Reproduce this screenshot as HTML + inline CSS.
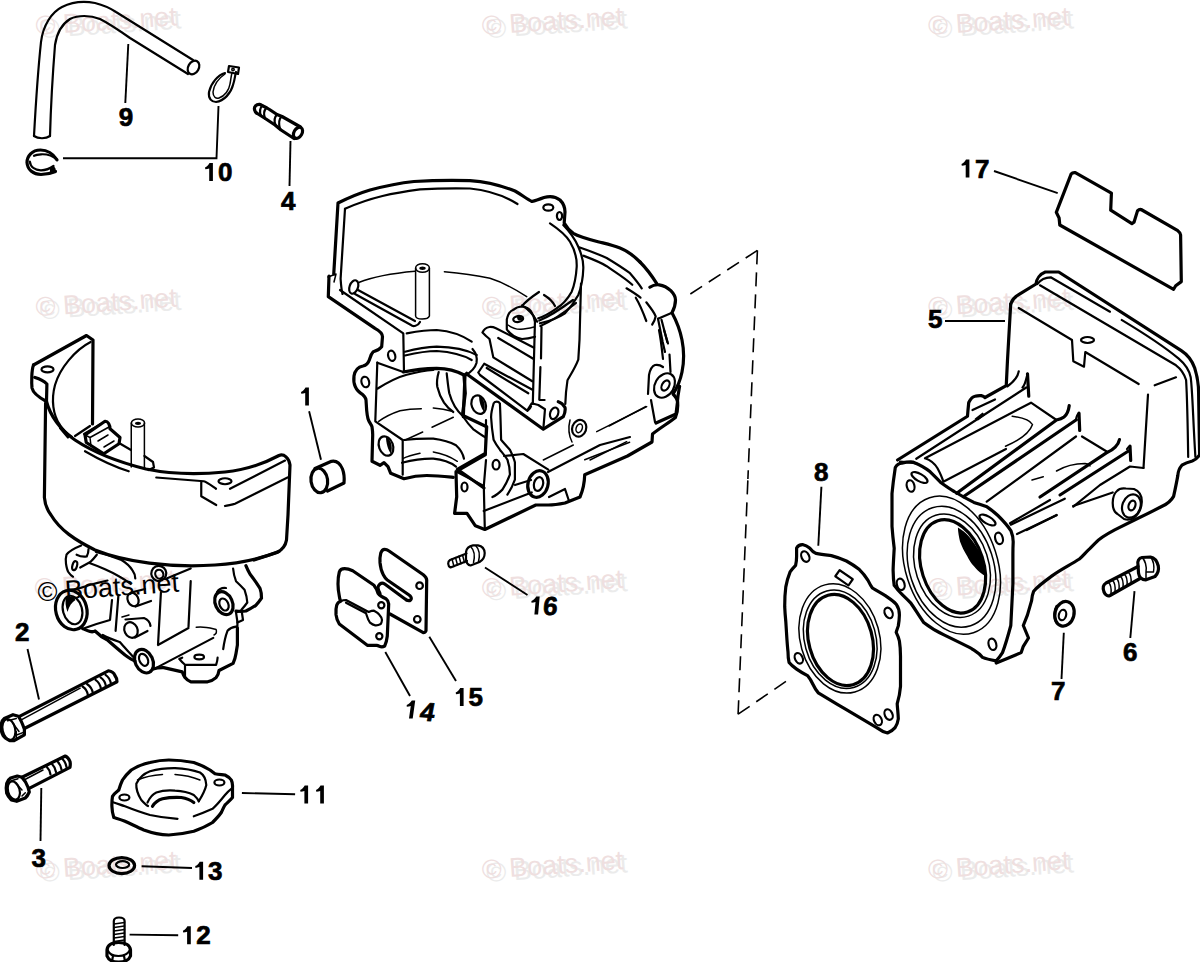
<!DOCTYPE html>
<html><head><meta charset="utf-8"><style>
html,body{margin:0;padding:0;background:#fff;width:1200px;height:962px;overflow:hidden}
svg{display:block}
.l{fill:none;stroke:#000;stroke-width:2.2;stroke-linecap:round;stroke-linejoin:round}
.t{fill:none;stroke:#000;stroke-width:1.5;stroke-linecap:round;stroke-linejoin:round}
.k{fill:none;stroke:#000;stroke-width:3.2;stroke-linecap:round;stroke-linejoin:round}
.ld{fill:none;stroke:#000;stroke-width:1.9}
.n{font-family:"Liberation Sans",sans-serif;font-weight:bold;font-size:26px;fill:#000;stroke:#000;stroke-width:0.7px}
.wm{font-family:"Liberation Sans",sans-serif;font-size:27px}
</style></head><body>
<svg width="1200" height="962" viewBox="0 0 1200 962">
<!-- WATERMARKS -->
<g id="wm">
<g transform="translate(36.2,35.0) rotate(-4)"><text class="wm" x="4.2" y="3.5" style="fill:#ebebeb">© Boats.net</text><text class="wm" style="fill:#efdfdf">© Boats.net</text></g>
<g transform="translate(482.5,35.0) rotate(-4)"><text class="wm" x="4.2" y="3.5" style="fill:#ebebeb">© Boats.net</text><text class="wm" style="fill:#efdfdf">© Boats.net</text></g>
<g transform="translate(928.8,35.0) rotate(-4)"><text class="wm" x="4.2" y="3.5" style="fill:#ebebeb">© Boats.net</text><text class="wm" style="fill:#efdfdf">© Boats.net</text></g>
<g transform="translate(36.2,316.3) rotate(-4)"><text class="wm" x="4.2" y="3.5" style="fill:#ebebeb">© Boats.net</text><text class="wm" style="fill:#efdfdf">© Boats.net</text></g>
<g transform="translate(482.5,316.3) rotate(-4)"><text class="wm" x="4.2" y="3.5" style="fill:#ebebeb">© Boats.net</text><text class="wm" style="fill:#efdfdf">© Boats.net</text></g>
<g transform="translate(928.8,316.3) rotate(-4)"><text class="wm" x="4.2" y="3.5" style="fill:#ebebeb">© Boats.net</text><text class="wm" style="fill:#efdfdf">© Boats.net</text></g>
<g transform="translate(35.2,597.6) rotate(-4)"><text class="wm" style="fill:#efdfdf">© Boats.net</text><text class="wm" x="2.8" y="4" style="fill:#000">© Boats.net</text></g>
<g transform="translate(482.5,597.6) rotate(-4)"><text class="wm" x="4.2" y="3.5" style="fill:#ebebeb">© Boats.net</text><text class="wm" style="fill:#efdfdf">© Boats.net</text></g>
<g transform="translate(928.8,597.6) rotate(-4)"><text class="wm" x="4.2" y="3.5" style="fill:#ebebeb">© Boats.net</text><text class="wm" style="fill:#efdfdf">© Boats.net</text></g>
<g transform="translate(36.2,878.9) rotate(-4)"><text class="wm" x="4.2" y="3.5" style="fill:#ebebeb">© Boats.net</text><text class="wm" style="fill:#efdfdf">© Boats.net</text></g>
<g transform="translate(482.5,878.9) rotate(-4)"><text class="wm" x="4.2" y="3.5" style="fill:#ebebeb">© Boats.net</text><text class="wm" style="fill:#efdfdf">© Boats.net</text></g>
<g transform="translate(928.8,878.9) rotate(-4)"><text class="wm" x="4.2" y="3.5" style="fill:#ebebeb">© Boats.net</text><text class="wm" style="fill:#efdfdf">© Boats.net</text></g>
</g>
<!-- PARTS -->
<g id="parts">
<!-- hose 9 -->
<path class="l" d="M34,136 C36,100 38,70 41,42 C43,25 52,12 62,7 C72,2 84,1 95,3 C103,5 110,8 116,12 L193,60"/>
<path class="l" d="M50,136 C51,100 53,70 55,45 C57,32 62,24 70,19 C78,15 90,15 100,19 C110,24 120,31 130,38 L188,74"/>
<path class="l" d="M34,136 C38,139 46,139 50,136"/>
<ellipse class="l" cx="193.5" cy="67.5" rx="5.3" ry="7.2" transform="rotate(30 193.5 67.5)"/>
<!-- clip 10 lower (C ring) -->
<path class="k" d="M57,159.8 C52,152 46,150 40.5,150 C32,150 27,156 27,162.5 C27.5,170 33.5,174.5 41,174.5 C47,174.5 52,173 55.5,171.5"/>
<path class="l" d="M57,159.8 C53,156 47,154 41,154.3 C37.5,154.5 35.5,155 34,155.8 M29.8,161.5 C30.5,167 35,170.3 41,170.3 C46,170.3 50,168.5 53.5,166"/>
<path d="M50,168.5 L53.5,165.5 L55.5,168.5 L56,172.5 L50,174 Z" fill="#000"/>
<!-- clip 10 upper -->
<path class="l" d="M225,73 C218,75 211,83 209,92 C208,99 212,102 216,102 C224,101 231,93 233,85 C235,79 235,75 236,72"/>
<path class="t" d="M225,74 C219,78 214,85 213,92 C213,97 216,99 219,98 C225,96 229,90 230,84 C231,79 231,76 232,73"/>
<path class="l" d="M229,66 L239,67.5 L238,74 L228,72 Z"/>
<circle class="t" cx="233" cy="69.5" r="1.2"/>
<!-- pin 4 -->
<path class="k" d="M260,104.5 L267,108 L269.5,109.5 L277,114.5 L282,116.5 L300.5,127 M256.5,113 L266,119 L275,125 L281,130 L294,138.5"/>
<path class="k" d="M260,104.5 C256,104 254,107 254.5,109.5 C255,111.5 255.5,112.5 256.5,113"/>
<ellipse class="k" cx="298" cy="132.8" rx="4" ry="6" transform="rotate(30 298 132.8)"/>
<path class="l" d="M262.5,105.5 C260,108 259.5,112 261,115.5 M266.5,107.8 C264,110.5 263.5,114.5 265,118.5 M277,114.5 C274.5,117 274,121 275.5,125 M281.5,116.5 C279,119 278.5,123.5 280,129"/>
</g>
<!-- LEFT HOUSING: shroud -->
<g id="lh">
<path class="k" d="M33.5,365 L86.5,335.5 L93,340 L92.5,424"/>
<path class="k" d="M33.5,365 C31.5,370 31.5,383 32,388 C33,393 40,398 46.5,401.5 L46.9,384 C44,381 40,379 35,377.5"/>
<ellipse class="l" cx="47.5" cy="369.4" rx="6" ry="3"/>
<path class="l" d="M90.6,342 C75,350 60,368 55,385 C51,400 53,415 60,425 C64,431 68,434 72,437"/>
<path class="k" d="M46.5,401.5 C50,415 60,430 75,440 C90,450 110,460 146,469 C170,474 195,475 225,472 C245,470 265,463 279,455.5 C284,453.5 289,458 290,465 L288,515 L286.5,540 C285.5,546 282,550 277,552.5 L254,560"/>
<path class="l" d="M230,488.75 L285,460.6 M225,506 C228,505 232,505 235,503.75 L287.5,477.5"/>
<path class="l" d="M156.25,477.5 L203.75,481.25 C207,482 212,486 216,488.75 M201.25,482.5 L201.25,496.25 L216.25,505"/>
<ellipse class="l" cx="225" cy="481.25" rx="6.5" ry="3"/>
<path class="l" d="M85,451.25 C100,460 115,467 128.75,471.25 M68,437.5 L60,428"/>
<path class="k" d="M45.6,403 L45,450 L44.4,497.5 C45,506 48,511 51,515 C60,530 75,540 95,550 C125,562 170,568 215,565 C245,563 265,557 279,551.5"/>
<path class="l" d="M75,436 L90,426 M84,434 L101,424"/>
<!-- choke block -->
<path class="k" d="M85,435 L105,421.25 C108,421 110,425 110,428.75 L120,437.5 L119,443.75 L103.75,453.75 L86.25,442.5 Z"/>
<path class="t" d="M85,435 L90,437.5 L109,427 M90,437.5 L91,446 M98,441 L108,435 M104,447 L114,441"/>
<path class="l" d="M119,443 L131,450"/>
<!-- tube -->
<path class="t" d="M131.25,423 L131.25,467 M144.4,423 L144.4,468"/>
<ellipse class="t" cx="138" cy="423" rx="6.6" ry="4"/>
<ellipse cx="138" cy="423.3" rx="3" ry="1.6" fill="#000"/>
<path class="l" d="M144.4,456 L153,462 L154,467.5 L148.5,470"/>
<!-- carb body -->
<path class="l" d="M81.2,545.5 C75,548 69,551 66.5,554.7 C65.5,558 65.5,561 66,563.8 C66.5,567 67,570 68.3,572 C70,574.5 71.5,576 73,576.7"/>
<ellipse class="l" cx="74.7" cy="565.7" rx="2.3" ry="4.6" transform="rotate(15 74.7 565.7)"/>
<path class="l" d="M76.6,554.7 C80,556.5 83.5,557 86.7,556.5 C88,554 88.5,551.5 88.5,549.2"/>
<path class="l" d="M80.2,567.5 L90.3,562 C93,559.5 95,557 96.8,554.7"/>
<path class="l" d="M89.4,563 C95,565 100,567 105,569.3 C110,571.5 115,574 119.7,576.7 C124,579 127.5,581.5 130.7,584"/>
<path class="l" d="M95.9,552 C105,554 113,556.5 121.5,560 C126.5,563 130,566.5 132.5,570.3 C134.5,573 135.2,575.5 135.3,578.5"/>
<ellipse class="k" cx="71.3" cy="610" rx="15.5" ry="20" transform="rotate(-15 71.3 610)"/>
<ellipse class="l" cx="72.5" cy="610" rx="9.5" ry="14.5" transform="rotate(-15 72.5 610)"/>
<path d="M66,597 C70,595.5 74,597 75.5,600 C72,602 69,606 67.5,612 C65.5,607 65,601 66,597 Z" fill="#000"/>
<path class="l" d="M73,590.5 C85,586 96,583 107.5,580.5 M85,628 C93,625 101,622.5 110,620 L112,600"/>
<path class="k" d="M82.5,628.5 C88,631 92,633 95,631 C99,635 103,638 107.5,640 C113,645 119,650 125,655 C129,658 132,660 135,661"/>
<path class="l" d="M118.4,595.4 L115.6,630.8 M102.8,635 C108,638 114,640 119.8,642 C124,647 129,652 134,657.7"/>
<!-- small cylinders -->
<ellipse class="l" cx="133" cy="599.5" rx="5.3" ry="7" transform="rotate(-25 133 599.5)"/>
<path class="l" d="M131,592.6 L145,589 M135.5,606.5 L151,601"/>
<ellipse class="l" cx="131" cy="630" rx="6.5" ry="8" transform="rotate(-25 131 630)"/>
<path class="l" d="M125.5,619.5 L144,618 C148,619.5 150,622 150.5,626 M135,637.5 L147.5,631"/>
<path class="t" d="M122,617 L129,615"/>
<!-- boss lower left -->
<ellipse class="k" cx="144" cy="661.2" rx="8.8" ry="12.3" transform="rotate(-25 144 661.2)"/>
<ellipse class="l" cx="143.6" cy="659.8" rx="4.2" ry="6.3" transform="rotate(-25 143.6 659.8)"/>
<!-- bottom contour -->
<path class="k" d="M153.1,669 C156,668 160,667.5 163.7,667.6 L182.2,671.9 C183,674 184,676 185,677.6 C186.5,679.5 188.5,681 190.7,681.8 L207.6,681.8 C211,681 214,679.5 216.1,677.6 C217.8,675.5 218.7,673 219,670.5 L233.1,663.4 C234.5,660 235.5,657 236,653.5 L237.4,645 L237.4,628"/>
<path class="l" d="M156.7,667.6 L213.3,637.9 M182.2,657.7 L179.3,659 M179.3,659 C181,661 183,663 185,664.8 L216.1,664.8 C217,662 217.5,660 217.6,657.7 M185,664.8 L185,677"/>
<ellipse class="l" cx="199.2" cy="657" rx="4.8" ry="2.3"/>
<!-- top boss and rect -->
<ellipse class="l" cx="158.8" cy="573.4" rx="7.5" ry="7.5" transform="rotate(-25 158.8 573.4)"/>
<ellipse class="l" cx="159.3" cy="574.2" rx="4" ry="4.5" transform="rotate(-25 159.3 574.2)"/>
<path class="l" d="M166.6,578.4 L190.7,568.5 M190.7,581.2 L188.5,626.6 M160.9,592.6 L158,645 M158,645 L188.5,628"/>
<path class="t" d="M196.3,627.3 C203,626 210,628 216.1,629.4 C217,632 216,634 214,635"/>
<!-- right side -->
<path class="k" d="M236,611 C239,611.5 243,611.5 245.9,611 C249,609.5 252.5,607.5 255.8,605.3 C258,603 260,600.5 261.5,598.2 C261.5,594.5 261,591 260,588.3 C257,583.5 253.5,578.5 250.1,574.2 C248.5,571.5 247,568.5 245.9,565.7"/>
<path class="l" d="M233.1,568.5 C233.5,573 234.5,577.5 236,581.2 C239,584 242,587 244.5,589.7 C246,594 247,598 247.3,602.5 C245.5,605 243.5,607.5 241.6,609.6"/>
<ellipse class="k" cx="223.9" cy="603.2" rx="8.5" ry="12" transform="rotate(-25 223.9 603.2)"/>
<ellipse class="l" cx="224" cy="604.5" rx="4.3" ry="6.3" transform="rotate(-25 224 604.5)"/>
<path class="l" d="M217,592 C219,589 222,587.5 226,588"/>
<path class="l" d="M236,612.4 L241.6,610.5 L243,620 L237.5,622.5 Z"/>
<path class="l" d="M223.2,649.2 C224,643 225.5,636 227.5,630.8 C230,628 233,627 236,626.6 M237.4,628 L237.4,622"/>
</g>
<!-- CENTRAL CRANKCASE -->
<g id="cc">
<!-- top rim -->
<path class="k" d="M333.75,274 L338,203 C350,197 360,193 370,190 C385,186 400,183 414,181.5 C430,180.5 445,180 470,180.6 C490,182 505,187 515,191 C522,195 527,199 532,201.5 C536,200.5 540,199 544,197.5 C549,196 555,196 560,200 C564,204 565,208 565,212 L564.2,223 C567,228 570,231 573.3,233.3 C578,236 584,238 598,241.7 C607,244 612,245 620,248 C628,251 634,256 640,262"/>
<path class="l" d="M345,208.75 C358,203 370,199 382.5,196 C395,193 408,191 420,189.4 C440,188.2 460,188.3 470,188.5 C485,190 500,193 517.5,204"/>
<path class="l" d="M345,208.75 L340.6,278.75 C341,285 341.5,290 342.5,294"/>
<ellipse class="l" cx="548.3" cy="207.5" rx="5" ry="3.2"/>
<ellipse class="l" cx="559.5" cy="216" rx="2.6" ry="4"/>
<path class="t" d="M328,277 L336,274 L334,282"/>
<!-- flywheel cavity arcs -->
<path class="l" d="M550,223.3 C560,230 566,235 570,241.7 C575,250 577,258 576.7,266.7 C576,278 574,286 571.7,291.7 C567,300 562,305 556.7,308.3 C550,313 545,316 538.3,318.3"/>
<path class="l" d="M563.3,225 C570,232 575,239 578.3,246.7 C582,255 583.5,262 583.3,268.3 C583,280 581,288 578.3,295 C574,303 570,308 565,313.3 C558,318 550,321 540,323.3"/>
<!-- floor -->
<path class="t" d="M358.75,282.5 C375,276 395,273 415,271.25 M444.4,271.7 C460,273 475,275 490,278.3 C505,283 515,289 526.7,296.7"/>
<ellipse class="l" cx="353.75" cy="287" rx="4.2" ry="7" transform="rotate(20 353.75 287)"/>
<path class="l" d="M358,290 L415,321 M355,294 L411,325 C413,327 418,326 420,322"/>
<!-- tube in cavity -->
<path class="t" d="M415.6,268 L415.6,316 C416,320 428,320 429.4,316 L429.4,268"/>
<ellipse class="t" cx="422.5" cy="268" rx="6.9" ry="4.3"/>
<ellipse cx="422.5" cy="268.3" rx="3.2" ry="1.7" fill="#000"/>
<!-- left contour -->
<path class="k" d="M329,276 L328.3,296.7 L375,328.3 C380,331 382.5,333 382.5,336.7 L381.7,346.7 C379,350 376,351 373.3,351.7 C371,354 370,358 369.3,360 C368,364 366,365.3 363,366 C358,367 355,370 354,376 C353.5,380 354,384 355.3,386.7 C357,391 360,393 362.7,394.7 C365,397 366,399 366,400 L366.7,410.7 C367,414 367.5,417 368,418.7 C369,422 371,424 372,426.7 C372.5,430 372.7,432 372.7,434.7 L372,461.3 L380,465.3 L384,462.7 L388,466.7 L390.7,473.3 L404,478.7 C412,476.5 420,475.5 426.7,475.5 C438,475.5 446,476.5 453.3,477.3"/>
<path class="l" d="M340,290 L403.3,333.3 L404,372"/>
<ellipse class="l" cx="391.7" cy="355.8" rx="3.5" ry="5.2" transform="rotate(-15 391.7 355.8)"/>
<ellipse class="l" cx="365.3" cy="382" rx="3.8" ry="5.3" transform="rotate(-15 365.3 382)"/>
<ellipse class="l" cx="386" cy="446" rx="7" ry="10" transform="rotate(-20 386 446)"/>
<path d="M386,437 C391,439 393,446 391,454 C388,450 386,443 386,437 Z" fill="#000"/>
<!-- upper half bearing -->
<path class="l" d="M406.7,333.3 C420,331 430,330 436.7,330 C450,331 462,335 471.7,341.7"/>
<path class="l" d="M472.5,349 C476,353 477.5,358 476.5,363 C475,368 471,372 466,375"/>
<path class="l" d="M405,351.7 C420,348 430,347 436.7,346.7 C455,347 467,350 476.7,355 M405,355.5 C420,352 430,351 436.7,351 C452,352 463,355 471.7,360"/>
<path class="l" d="M377.3,362.7 L403.3,372"/>
<path class="k" d="M403.3,372 C415,369.5 425,368.5 436.7,368.3 C448,368.5 456,370.5 464,375"/>
<path class="l" d="M377.3,362.7 L375.3,421.3 L402.7,440 L402.7,474.7"/>
<path class="l" d="M377.3,388.7 C388,382 398,377 406.7,374.7 C417,372 425,370.5 433.3,370"/>
<path class="t" d="M378.7,421.3 C386,416 393,413 400,410.7 C408,409 415,408.7 421.3,408.7 M433.3,408 C440,408.5 446,409.5 452,411.3"/>
<path class="t" d="M405.3,440 L422.7,432 M432,427.3 L453.3,417.3"/>
<path class="l" d="M438.7,372 C437,378 436.5,382 437.3,386.7 C439,394 441,398 444,402.7 C447,407 450,410 453.3,412"/>
<path class="l" d="M446.7,373.3 C447.5,380 448,386 449.3,393.3 C452,403 456,410 462.7,416 C466,421 470,426 473.3,429.3 C477,432 481,435 485.3,437.3"/>
<!-- lower half bearing -->
<path class="l" d="M404,440 C415,438.8 425,438.5 433.3,438.7 C443,440 450,442 456,445.3 C460,449 463,454 464,458.7"/>
<path class="t" d="M402.7,458.7 C408,456 414,454.5 420,453.3 M433.3,452 C442,453.5 450,456.5 457.3,461.3"/>
<path class="l" d="M402,462.7 C415,459.5 425,458.5 433.3,458.7 C443,459.5 450,462 456,466.7"/>
<path class="k" d="M464,376 L465.3,393.3 L462.7,413.3 M464,416 L486.7,426.7 L485.3,453.3 L457.3,469.3 L484,488"/>
<ellipse class="l" cx="478.7" cy="404.7" rx="7" ry="9.5" transform="rotate(-20 478.7 404.7)"/>
<path d="M479,396 C484,398 486,405 484,412 C481,408 479,402 479,396 Z" fill="#000"/>
<!-- center connecting area -->
<path class="l" d="M482.5,332.5 C484,329 486,327.5 489.5,327 C492,326.8 494,327.3 496,328.2 L534,347.7 M486,336 L489.5,339 L493.3,357.4 L532.3,381.3 M498.2,338 L532.8,358.5 M482.5,332.5 L486,336"/>
<path class="l" d="M478.3,372.5 L484.2,363.75 L532,389.5 M486.7,368 L528.3,393.3 M478.3,372.5 L480,375 L527.5,410.8 C529.5,409.5 530.5,408 531,406.5"/>
<path class="l" d="M506.8,319.5 C508,314 510,311 513.3,309.8 C516,307.5 519,306.5 522,306.5 C526,307 529,308.5 530.7,310.8 C533,314 534.5,318 535,321.7 M506.8,319.5 L506.8,329.3 C510,334 515,338 522,339 C527,339 531,338 535,336.8"/>
<ellipse class="l" cx="518.2" cy="319" rx="5" ry="3" transform="rotate(-10 518.2 319)"/>
<path d="M517,317 C520,316 523,317 522.5,319.5 C520,321 517,321 517,317 Z" fill="#000"/>
<path class="t" d="M508,325 C512,328 516,329.5 521,329.3 C526,329 530,328 534,327"/>
<path class="l" d="M522,306 C527,300 533,296 539,292 M544,295 C549,298 553,302 555,306 M522,305.4 C528,309 533,314 537.2,321.7 M539.3,320.6 C550,316 562,308 573,300 M540.4,326 C552,321 565,312 576,303"/>
<path class="l" d="M535,319.5 L532.8,404 M541.5,327 L541,358.5 M540.4,367.2 L539.3,399.7"/>
<path class="l" d="M581,283.5 C580.5,300 580,320 579.5,340 L578.3,359.6 C575,368 571,374 567.5,380.2 C566,390 565.5,397 565.3,404"/>
<path class="k" d="M466.7,373.3 L465,375 L463.3,416.7 M466.7,374 L543.3,429.2 L563.3,416.7 C565,413 565.5,410 565,407.5 C563,404 561,402.5 558.3,401.7"/>
<path class="l" d="M527.5,410 L531.7,403.3 L538.3,405 L545,409.2 L543.3,429.2 M540,400 L544.6,400"/>
<ellipse class="l" cx="554.2" cy="413.3" rx="4" ry="6" transform="rotate(20 554.2 413.3)"/>
<ellipse class="l" cx="579.2" cy="428.3" rx="7" ry="8.5" transform="rotate(20 579.2 428.3)"/>
<ellipse class="t" cx="579.2" cy="428.3" rx="3" ry="4.5" transform="rotate(20 579.2 428.3)"/>
<path class="t" d="M570,420 C568,428 569,436 572,442 M596.7,431.7 L646.7,406.7 M543.3,460 L573.3,445 M590,460 L626.7,441.7"/>
<path class="l" d="M493.6,403.5 C492,409 491,413 491.1,417.3 C491.5,425 492.5,433 493.6,439.7 C495.5,443.5 497.5,446.5 499.9,449.7 C502.5,453 505.5,456.5 507.4,459.7 C509,464.5 510,469.5 509.9,474.7 C508,480 505.5,485 502.4,489.6 C499,493 496,495.5 492.4,497.1 M499.9,403.5 C500.5,415 500.8,428 501.1,439.7 C503.8,443 507,446.5 509.9,449.7 C512,454 513.8,458 514.9,462.2 L514.9,479.6 C513,485 510.5,490 507.4,494.6 M493.6,403.5 C494.5,401 498.5,401 499.9,403.5"/>
<!-- bottom -->
<path class="k" d="M456,471.7 L456.7,496.7 L454.6,513.3 L467,513.3 L475.4,525.8 L484.8,529.5 L535.8,505 C541,505 545,505 548.3,505 C555,505 560,504 565,503 L580,497 C583,490 584.5,483 584.7,474.7 L627.5,456 L652,442 L652.5,434 C660,428 670,422 675.4,417.5 C678,412 678,406 677.5,400.8 C678,394 679,390 679.6,386.3"/>
<path class="l" d="M456.7,471.7 L485.8,455 L486,420 M456.7,471.7 L483.8,486 L484.8,529"/>
<path class="l" d="M483.8,486 L486,460 M483.75,511 L531.7,492.5"/>
<ellipse class="l" cx="464.5" cy="487" rx="3" ry="4.5"/>
<ellipse class="l" cx="496.1" cy="464.7" rx="3.5" ry="4.8"/>
<path class="l" d="M504,456 L523.3,454 L548.3,469.6 M515,485 L531,480"/>
<ellipse class="k" cx="538" cy="484" rx="10" ry="13.5" transform="rotate(15 538 484)"/>
<ellipse class="l" cx="538.5" cy="484" rx="4.5" ry="7" transform="rotate(15 538.5 484)"/>
<path class="l" d="M548,472 L600,445 L630,437 M549,497 L565,489 L569,501"/>
<path class="t" d="M584.7,459.7 L629.6,442.2"/>
<!-- right side of crankcase -->
<path class="k" d="M640,262 C646,268 652,276 656.8,283.7 M649.8,287.2 C653,285 656,284.5 659.2,284.8 C664,285.5 668,288 670.8,290.7 C674,294 675.5,297 675.5,300 C675.5,304 675,307 672,312.8 C677,322 680,330 682,340 C684,350 684.5,360 682,372 C680,382 677,388 673,394 C676,397 677.5,400 677.5,402 L676,414 L656,423"/>
<path class="l" d="M672,312.8 L658,318.7 M658,318.7 L662.7,342 L665,352 M661.5,319.8 L667.3,342"/>
<path class="l" d="M579.8,247.5 C590,251 598,254 606.7,258 C615,263 623,268 630,273.2 C635,279 639,284 641.7,288.3"/>
<path class="l" d="M583.3,255.7 C592,259 600,262 606.7,266.2 C615,272 625,278 632.3,284.8"/>
<path class="l" d="M626.5,288.3 C631,291 636,294 640.5,297.7 M635.8,297.7 C639,303 643,312 646.3,321 M646.3,302.3 C650,307 654,312 655.7,316.3 C655,320 654,322 652.2,324.5"/>
<path class="l" d="M659,330 C661,340 662,350 663,359 M664,330 L668,343.5 M669.5,354.5 L670.5,372"/>
<ellipse class="l" cx="664.5" cy="385.5" rx="9.5" ry="13" transform="rotate(30 664.5 385.5)"/>
<ellipse class="l" cx="665.5" cy="385.5" rx="3.5" ry="5.5" transform="rotate(30 665.5 385.5)"/>
<path class="l" d="M648,394 L649,375 C650,370 652,366 655,365 C658,364.5 661,365.5 663,367"/>
<path class="l" d="M651,400 L655,422"/>
<path class="t" d="M646,406.5 L609,426"/>
</g>
<!-- reed 15 / 14 -->
<path class="k" d="M380.7,553.3 C381.5,550.5 383,549.3 384.7,549.3 C386,549.3 387.5,549.8 388.7,550.7 L423.3,574.7 C425.5,576.5 426.7,578 426.7,580 L426,630.7 C425.5,632 424.5,632.7 423.3,632.7 L390,614 M380.7,553.3 C380,556 379.8,559 380,562.7 C380.5,568 381.5,571.5 383.3,574.7 C384.5,577 385.7,578.7 387.3,580 L408.7,594.7 C410.5,596 411.5,597.5 411.3,598.7 C410.8,600.2 409.8,600.8 408.7,600.7 C407,600.7 405.7,599.8 404.7,598.7 L384.7,584 C383,582.8 381.5,582.7 380,584 C378.5,585.3 377.8,586.5 378,588 C378.2,590 379,591.8 380,593.3"/>
<circle class="l" cx="419.6" cy="585.7" r="3.3"/>
<circle class="l" cx="417.3" cy="619.3" r="3.3"/>
<path class="k" d="M339.3,572 C340,569.8 342,568.7 344.7,568.7 C347.5,568.7 350,569.5 352.7,570.7 L374,585.3 C376,587.5 377,590 378,593.3 C380,596 383,597.5 386,598.7 C387.7,600 388.5,602 388.7,604 L387.3,636 C386.8,640 386,643.5 384.7,646 C383.3,646.8 382,646.9 380.7,646.7 C379.3,646.2 378,645.5 376.7,645.3 L367.3,645.3 L339.3,624 C337.5,621 336.3,618 336,614.7 C335.8,611 336,607.5 336.7,605.3 C337.5,603 339,601.8 340.7,601.3 C339.8,599.5 339.5,598 339.3,596 C338.5,592 338,588 338,584 C338,579 338.5,575 339.3,572 Z"/>
<path class="l" d="M340.7,601.3 C342.5,600.3 344.3,600 346,600 L368.7,612 C371,611 372.5,610.7 374,610.7 C376,611.7 378,613 379.3,614.7 C381,616.5 382,618.2 382,620 C381.8,622 381.3,623.3 380.7,624 C379,625 377.3,625.5 375.3,625.3 C373.3,625 371.5,624 370,622.7 C368,620 367,616.5 366,613.3 L346,602.7"/>
<circle class="l" cx="381.3" cy="605.3" r="3.1"/>
<circle class="l" cx="379.3" cy="636.3" r="3.1"/>
<!-- screw 16 -->
<path class="l" d="M466,552 C466.5,548.5 469,546 473,545.3 L478,545.3 C482,546 484.5,549 484.7,553 C484.7,557 483,560 479.5,562 L470.5,565.5 C468,565 466.5,563 466,560 Z"/>
<path class="t" d="M471,547 C474,550 475,556 473.5,562.5 M476,546 C479,549 480,555 478.5,561.5"/>
<path class="l" d="M466.5,553.5 L450,560 C447.5,561.5 447.5,566 450.5,567.5 L467,561"/>
<path class="t" d="M452,559 L454,566.5 M455.5,557.6 L457.5,565 M459,556.3 L461,563.8 M462.5,555 L464.5,562.5"/>
<!-- bolt 2 -->
<path class="k" d="M1.1,725 C1.5,721.5 2.8,719.8 4.3,718.5 L13,714.7 L18.4,716.3 C21,720 23,725 24.4,729.3 L24.4,734.8 L14.1,740.7 L9.8,740.7 C6.5,739 4.5,738 3.3,735.8 C1.5,733 0.8,729 1.1,725 Z"/>
<ellipse class="l" cx="8.9" cy="729.5" rx="6.3" ry="10.6" transform="rotate(-12 8.9 729.5)"/>
<path class="t" d="M7.6,720.7 L16.3,718.5 M13,723.5 L19,731.5 M17.3,734.8 L22.8,732.6 M16.3,731.5 L16.3,740.2"/>
<path class="k" d="M19.5,716.3 L108.3,670.8 C111.5,671.5 114,673 114.8,675.2 C116.5,677.5 117.2,679.5 117,681.7 L24.9,728.3"/>
<path class="t" d="M21.7,719.6 L80.2,688.2"/>
<path class="l" d="M82.5,686.5 C85,688 87.5,692 88,695.5 M87,684 C90,686 92.5,690 93,693.5 M95.5,679.8 C98,681.5 100.5,685.5 101,689 M100.5,677.3 C103,679 105.5,683 106,686.5 M105.5,674.8 C108,676.5 110.5,680.5 111,684"/>
<!-- bolt 3 -->
<path class="k" d="M6.7,783.3 C8,780.5 9,779 10.7,778 L17.3,776 L22,777.3 C25,780.5 27,784 28,787.3 L29.3,792 C28,795 27,796.5 25.3,798 L16.7,801.3 L11.3,800 C9,797.5 7.5,795.5 6.7,793.3 C6,790 6,786.5 6.7,783.3 Z"/>
<ellipse class="l" cx="13.8" cy="790.5" rx="5.8" ry="9.3" transform="rotate(-15 13.8 790.5)"/>
<path class="t" d="M11.3,780.7 L18,778.7 M15.3,782.7 L22,790 M22,796 L25.3,792.7"/>
<path class="k" d="M22,777.3 L65.3,756 C67.5,757 69,759 70,761.5 C70.5,763.5 70.3,765.5 70,767.3 L28.7,788.7"/>
<path class="t" d="M24,780 L43,770"/>
<path class="l" d="M46.5,766.5 C48.5,768.5 50,771.5 50.5,774.5 M52,764 C54,766 55.5,769 56,772 M57.5,761.5 C59.5,763.5 61,766.5 61.5,769.5 M62.5,759 C64.5,761 66,764 66.5,767"/>
<!-- flange 11 -->
<path class="k" d="M112.5,796.3 C114.5,793 117,791.5 118.8,790 C120,786 121,783 122.5,780 C125,776 128,773 131.3,770 C137,766.5 143,764 150,762.5 C156,761 162,760 168.8,760 C178,760 186,761 193.8,762.5 C200,764.5 205,767 210,770 L215,773.8 C218.5,774.5 222,774.6 225,775 C228,776.5 230,778 231.3,780 C232.5,782.5 232.7,785 232.5,787.5 L232.5,797.5 C230,800.5 227.5,802.5 225,805 C223.5,807.5 222.5,810 221.3,812.5 C218.5,816.5 215.5,819.5 212.5,822.5 C206,826.5 200,829 193.8,831.3 C185,833.5 177,834.7 168.8,835 C160,834.8 152,833 143.8,830 C137,827 131,824 125,821.3 C121,819.5 117,818.5 113.8,817.5 C112.5,813.5 112,810 111.9,806.3 C111.8,802.5 112,799.5 112.5,796.3 Z"/>
<path class="l" d="M113.8,802.5 C117,803.5 121,805 125,806.3 C133,809.5 141,812.5 150,815 C159,817 168,818.2 177.5,818.8 M193.8,816.3 C200.5,814 206.5,811.5 212.5,808.8 C217,805 221,800 225,795 C227,792.5 229,790.5 231.3,788.8"/>
<ellipse class="l" cx="124.4" cy="797.5" rx="5" ry="3"/>
<ellipse class="l" cx="219.4" cy="782.5" rx="5" ry="3"/>
<path class="l" d="M136.3,783.8 C139,778 143,774 150,771.3 C158,769 166,768 175,768.1 C185,768.5 193,770 200,772.5 C204,775 206,780 206.3,785 C205,791 202,796 198.8,801.3 M136.3,783.8 C136,789 137.5,794 141.3,800 C144,803 146,805 148,806"/>
<path class="t" d="M137.5,780 C145,776.5 153,775 162.5,774.4 M175,774.4 C185,775 193,777 200,780"/>
<path class="l" d="M147.5,802.5 C150,797 153,794 156.3,792.5 C162,790.5 168,790 175,790.6 C183,791 189,792.5 193.8,795 C196,797 197.8,799 198.8,801.3"/>
<path class="k" d="M152.5,806.3 C155,802 158.5,800 162.5,798.8 C168,797.6 175,797.2 181.3,797.5 C186,798.3 190.5,800 193.8,802.5"/>
<!-- washer 13 -->
<ellipse class="k" cx="121.8" cy="865.6" rx="12.8" ry="8"/>
<ellipse class="l" cx="122.6" cy="864.6" rx="6.6" ry="3.4"/>
<!-- screw 12 -->
<path class="l" d="M113.8,945 L113.8,921 C114,918.5 116.5,917.5 119,917.5 C122,917.5 124.5,918.5 124.6,921 L124.6,945"/>
<path class="t" d="M114,924 L124.5,922.5 M114,927.5 L124.5,926 M114,931 L124.5,929.5 M114,934.5 L124.5,933 M114,938 L124.5,936.5 M114,941.5 L124.5,940"/>
<path class="k" d="M107,950 C107.5,945 112,942.5 118.5,942.5 C125,942.5 130,945 130.5,950 L130.5,956 C129,960 124,962 118.5,962 C113,962 108.5,960 107,956 Z"/>
<path class="l" d="M107.5,950 C109,954 113,956 118.5,956 C124,956 128,954 130,950 M113,956 L112,961 M124,956 L125,961"/>
<!-- gasket 8 -->
<path class="k" d="M796.6,548 C798,545.5 800.5,544.5 803.1,544.7 C805.5,545.2 807.7,546.5 809.6,548 C811.5,550.5 813.5,552.5 816.1,553.4 C821,554.5 826,555 831.3,555.6 C836.5,557 841.5,558.8 846.4,561 C851,563.5 855.5,566.5 859.4,569.6 C863,573 865.7,576.7 868,580.4 C869.5,583.5 870.8,586 872.4,588 C876.5,590.5 881,593 885.3,595.6 C889.5,598.5 893.5,601 896.2,604.2 C898.5,607.5 899.4,611 899.4,615 C899.3,619 898.9,622.5 898.3,625.9 C897.5,628.5 896.5,630.5 896.2,632.4 C897.5,635 898.8,638 899.4,641 C900.2,646 900.5,651 900.5,656.2 L900.5,686.4 C900,693 898.8,698.5 897.2,703.8 C897.5,709 898.2,714 898.3,718.9 C897.8,722.5 896.8,725.3 895.1,727.6 C893,730 890.5,731.8 887.5,733 C883.5,732 880,730 876.7,727.6 C864,720 852,713 839.9,705.9 C832.5,701.5 825,697 818.3,692.9 C816,690.3 814.3,687.3 812.9,684.3 C811.3,681 809.5,678 807.5,675.6 C803.5,673.5 800,671.5 796.6,669.1 C793.5,667 791,665 789.1,662.6 C788.2,659 788,655.5 788,651.8 C787.5,647.5 787.2,643 786.9,638.9 L785.8,621.5 C785.3,616.5 784.9,611.5 784.7,606.4 C784.7,599.5 785,593 785.8,586.9 C786.8,581.5 788.2,576.5 790.1,571.8 C791.8,569.3 793.7,567.3 795.6,565.3 C796.3,562.5 796.6,559.5 796.6,556.6 Z"/>
<ellipse class="l" cx="805.3" cy="556.6" rx="3.8" ry="5.5" transform="rotate(-25 805.3 556.6)"/>
<ellipse class="l" cx="888.6" cy="612.9" rx="3.8" ry="5.5" transform="rotate(-25 888.6 612.9)"/>
<ellipse class="l" cx="798.8" cy="658.3" rx="3.8" ry="5.5" transform="rotate(-25 798.8 658.3)"/>
<ellipse class="l" cx="877.8" cy="720" rx="3.8" ry="5.5" transform="rotate(-25 877.8 720)"/>
<ellipse class="l" cx="888.6" cy="714.6" rx="3.8" ry="5.5" transform="rotate(-25 888.6 714.6)"/>
<rect class="l" x="836" y="574" width="16" height="7.5" transform="rotate(35 844 577.8)"/>
<ellipse class="t" cx="839.9" cy="638.4" rx="39.6" ry="55.6" transform="rotate(-15.6 839.9 638.4)"/>
<ellipse class="t" cx="840.2" cy="639.2" rx="35.6" ry="50.1" transform="rotate(-15.6 840.2 639.2)"/>
<ellipse class="k" cx="840.5" cy="640" rx="31.7" ry="46.4" transform="rotate(-15.6 840.5 640)"/>
<!-- exhaust housing 5 -->
<path class="k" d="M895.3,467.5 C897,464.5 899,463.3 901.8,463.1 C905,462.3 909,461.8 912.8,462 C919,464.5 925,467.5 930.2,471.8 C934,475.5 937.5,479.3 941.1,482.8 C945.5,486 949.8,489 954.2,491.5 C960.5,495.3 967,499 973.9,502.4 C978.5,504 983,505.3 987,506.8 C991,509.5 994.5,512.3 997.9,515.5 C1003,520.5 1007.5,525.5 1011,530.8 C1012.5,534.5 1013.2,538 1013.2,541.7 C1013,546 1012.9,550 1012.9,554 L1012.9,584 L1010.8,625.5 C1008,636 1005,646 1002.5,652.6 C1000,656.5 998,659 996.2,660.9 C991,660 986,659 982.6,657.4 C979,653 975,651 971.7,648.7 C963,644 954,640 945.5,635.6 C937.5,632 930,627.5 923.7,622.5 C919,616 915,609 910.6,602.8 C907.5,599.5 904.5,596.8 901.8,594.1 C899,591.5 896.5,588.5 894.2,585.4 C893.5,580.5 893.2,575.5 893.1,570.1 C893.3,563 893.8,555.5 894.2,548.3 C893.3,541 892.5,533.5 892,526.4 L892,493.7 C892.8,485 894,476 895.3,467.5 Z"/>
<ellipse class="l" cx="910.6" cy="486" rx="3.8" ry="5.8" transform="rotate(-15 910.6 486)"/>
<ellipse class="l" cx="999" cy="538.4" rx="3.8" ry="5.8" transform="rotate(-15 999 538.4)"/>
<ellipse class="l" cx="900.7" cy="584.3" rx="3.8" ry="5.8" transform="rotate(-15 900.7 584.3)"/>
<ellipse class="l" cx="992.4" cy="644.3" rx="3.8" ry="5.8" transform="rotate(-15 992.4 644.3)"/>
<ellipse class="l" cx="919.5" cy="477.5" rx="9" ry="3.6" transform="rotate(30 919.5 477.5)"/>
<ellipse class="l" cx="987.5" cy="520" rx="9" ry="3.6" transform="rotate(30 987.5 520)"/>
<ellipse class="t" cx="951.5" cy="565.2" rx="46" ry="71" transform="rotate(-18 951.5 565.2)"/>
<ellipse class="t" cx="951.5" cy="566.8" rx="42" ry="62" transform="rotate(-18 951.5 566.8)"/>
<ellipse class="t" cx="952" cy="565.7" rx="36.5" ry="53" transform="rotate(-18 952 565.7)"/>
<ellipse class="k" cx="952.6" cy="566.3" rx="31" ry="48" transform="rotate(-18 952.6 566.3)"/>
<path d="M957.9,527.5 C962,530 966,533 968.5,536 C973,541 977,547 980,553 C983,559 985,566 985.7,576.5 C981,573 978,571 975.7,568.2 C971,563 969,560 967.4,556.5 C964,551 962,547 960,541.6 C959,537 958,532 957.9,527.5 Z" fill="#000"/>
<!-- body top lines -->
<path class="k" d="M897.5,460 L967.5,416.25 C968,409 968.5,405 968.75,402.5 C971,398 973,396.5 975,396.25 C977.5,395.5 979.5,395.5 981.25,395.6 C983,396 984,396.5 985,397.5 L1006.25,385.6 L1007.5,360 L1010.7,304"/>
<path class="l" d="M916.25,458.75 L1026.25,387.5 M972.5,410 L995,399.4"/>
<path d="M976,418.5 L982.5,413.5 L984,415 L978,419.5 Z" fill="#000" stroke="#000" stroke-width="1.5"/>
<path class="l" d="M1018.75,371.25 C1018,376 1015,381 1007.5,386.25 M1027.5,373.75 C1026,380 1025,385 1022.5,387.5"/>
<path class="k" d="M1027.5,373.75 L1028.75,396.25"/>
<path class="l" d="M925,458.3 C930,460 935,464 937.5,468.3 C940,473 942,477 943.3,481.7 L1006,449 M925,458.3 L1031,402.7 L1056.5,420"/>
<path class="t" d="M1012.2,416.2 C1022,417.5 1030,420 1032.5,424.5 C1030,432 1020,440 1005.5,446.2"/>
<path class="k" d="M1069.2,405.7 C1068.5,411 1066.5,415 1064,417 C1062,418.5 1059,419.5 1056.5,420 L956.7,493.3 M1079,413.2 L1079.7,430.5 M1076,420 L963.3,496.7"/>
<path class="l" d="M1076,420 C1076.5,416 1077.5,414 1079,413.2"/>
<path class="l" d="M1082,436.5 L1106.7,451.5 M1076,436.5 L986.7,501.7"/>
<path class="t" d="M1056.5,471 C1065,466 1075,463.5 1085,463.5 C1088,464 1090,465 1090,466 M1032,480 L1043.3,476.7"/>
<path class="k" d="M1119.5,439.5 C1118.5,445 1113,450 1107.5,452.2 L1040,497 M1130,446.2 L1130.7,460.5 M1130,450 L1060,495"/>
<path class="l" d="M1127,449 C1128,447.5 1129,446.5 1130,446.2"/>
<path class="l" d="M1143.5,468 L1130,466.5 L1100,485 L1073.3,506.7 M1010,523.3 L1050,500 M1026.7,530 L1056.7,515"/>
<path class="l" d="M900,461.7 C905,462 911,462.5 916.7,463.3"/>
<!-- part 5 top box -->
<path class="k" d="M1010.7,304 C1012,300 1014.5,297 1018.7,294.7 L1036,284 C1036.5,279 1040,274 1045.3,272 L1058.7,272 L1181.3,350.7 C1188,355 1192.5,362 1194.7,368 C1197.5,377 1198.6,386 1198.6,392.4 L1199.6,454.8 C1197,458.5 1195,460 1192.3,461 C1188.5,462 1185,463.3 1181.9,465.2 C1179,468.5 1178,472 1177.8,475.6 C1176.5,483 1175,490 1173.6,496.4 C1171,501 1167,504 1162.6,506 C1155,510 1145,515 1135.5,519.5 L1114.7,529.9 C1107,534 1100,538 1096,542.4 L1089.8,548.6 C1086,552 1083,556 1079.4,559 C1070,565 1060,570 1052.4,575.6 C1045,581 1038,586 1033.7,591.2 C1032.5,594 1032,597 1031.6,600.6 L1027.4,615.1 L1023.3,625.5 L1028.5,638 L1023.3,646.3 L1021.2,652.6 L1006.6,658.8 L996.2,663"/>
<path class="l" d="M1037.3,284 C1040,280.5 1045,277.3 1050.7,277.3 L1110,311.7 M1121.7,320 C1140,331 1160,343 1178.7,358.7 C1185,364 1189,369 1190.7,377.3 C1192.5,390 1193,420 1195.4,456.9"/>
<path class="l" d="M1040,285.3 L1176,365.3 C1181,369 1184,373 1186.1,380 C1187,395 1187.5,410 1188.2,456.9"/>
<path class="l" d="M1018.7,308 L1072,340 L1073.3,361.3 L1084,366.7 L1085.3,352 L1138.7,384 M1154.7,385.3 L1176,377.3"/>
<ellipse class="l" cx="1087.5" cy="340" rx="6.5" ry="3"/>
<path class="l" d="M1148,394.5 L1143.5,468"/>
<path class="l" d="M1117,491 C1119,488.5 1122,488 1126,488.5 L1134,489 C1139,491 1142,496 1141.8,502 C1141.5,509 1138,515 1133,518.5 C1130,519.8 1127,519.8 1124,519 L1117.5,514 C1114,512 1112.7,508 1112.7,503 C1112.8,497 1114.5,493 1117,491 Z"/>
<ellipse class="l" cx="1131.4" cy="506" rx="9" ry="12" transform="rotate(20 1131.4 506)"/>
<ellipse class="l" cx="1132" cy="505.5" rx="3.3" ry="5" transform="rotate(20 1132 505.5)"/>
<path class="l" d="M1073.2,506 L1112.7,492.5 M1017,534 L1056.5,515.3 M1010.8,524.7 L1064.8,498.7"/>
<!-- washer 7 -->
<ellipse class="k" cx="1064.5" cy="613.8" rx="9.5" ry="12.5" transform="rotate(15 1064.5 613.8)"/>
<ellipse class="l" cx="1062.5" cy="615" rx="3.6" ry="5.3" transform="rotate(15 1062.5 615)"/>
<path class="l" d="M1056.5,606 C1054,610 1053.5,617 1056,622"/>
<!-- bolt 6 -->
<path class="k" d="M1138,565 C1137,561 1139,558 1142,557.5 L1150.5,557 C1154,557.5 1157,561 1158.3,566 C1159,570 1157.5,574 1155,576.5 L1146,579.8 C1142,580 1139,577 1138.5,573 Z"/>
<path class="t" d="M1142,557.7 C1145,560 1147,566 1146,572 M1150.5,557 C1153,560 1154.5,566 1153.5,572 M1146,572 L1153.5,572 M1146,579.8 L1146,572"/>
<path class="k" d="M1138,566.5 L1106,583 C1103.5,584.5 1102.5,588 1104,592 C1105.5,595.5 1108,596.5 1110,595.5 L1140,578.5"/>
<path class="t" d="M1108,582 C1110.5,584 1111.5,589 1111,594 M1112,580 C1114.5,582 1115.5,587 1115,592 M1116,578 C1118.5,580 1119.5,585 1119,590 M1120,576 C1122.5,578 1123.5,583 1123,588 M1124,574 C1126.5,576 1127.5,581 1127,586 M1128,572 C1130.5,574 1131.5,579 1131,584"/>
<!-- bushing 1 -->
<ellipse class="k" cx="319.3" cy="480.5" rx="8.3" ry="12.3" transform="rotate(-8 319.3 480.5)"/>
<path class="k" d="M315,468.5 L331.5,461.3 C336,460.5 340,463 342.5,469 C344,473 344.5,478 344,483 L327.5,491"/>
</g>
<!-- dashed line -->
<g fill="none" stroke="#000" stroke-width="1.6" stroke-dasharray="14 8"><path d="M757.4,250.4 L684.7,297.7"/><path d="M757.4,250.4 L747.9,479"/><path d="M738.1,714.2 L747.9,479"/><path d="M738.1,714.2 L789.9,678.7"/></g>
<!-- part 17 -->
<path class="k" d="M1056.3,212.3 L1071.1,174.1 C1072,173 1073.5,172.5 1075.3,172.7 L1111.4,193.2 L1110.7,210.2 L1131.9,223.6 L1134,222.2 L1137.5,210.9 C1138.5,209.8 1139.8,209.3 1141.1,209.5 L1177.8,230.7 C1179.5,232 1180.4,233.3 1180.6,234.9 L1181.3,281.6 L1175.7,285.8 L1173.6,289.3 L1059.8,225 L1059.1,218 Z"/>
<!-- LEADERS -->
<g id="leaders" class="ld">
<path d="M128.3,44 L125.3,103"/>
<path d="M63,158.3 L216.5,158.3 L218.5,106"/>
<path d="M290.5,141 L289.5,186"/>
<path d="M994,171 L1057.7,193.2"/>
<path d="M945,321 L1005,321"/>
<path d="M309.1,411.2 L321,459.8"/>
<path d="M821.4,486.8 L818.3,545.8"/>
<path d="M27.5,649 L39,699.5"/>
<path d="M485,567.5 L527.5,595"/>
<path d="M429.3,636.7 L456,681"/>
<path d="M385.3,652 L410,696"/>
<path d="M1134.5,591.2 L1130.3,638"/>
<path d="M1063.8,632.8 L1061.5,679"/>
<path d="M241.9,793 L295.1,794.3"/>
<path d="M41.3,788 L40.5,841"/>
<path d="M141.6,866.2 L192,868"/>
<path d="M129.6,934.6 L178.2,935.2"/>
</g>
<!-- LABELS -->

<g id="labels">
<text class="n" x="118.7" y="125.8">9</text>
<path transform="translate(205.0,181)" d="M4.5,-18 L7.9,-18 L7.9,0 L4.2,0 L4.2,-12.6 C3,-12.2 1.6,-11.9 0.3,-11.8 L0,-13.6 C1.9,-14.4 3.3,-16 4.5,-18 Z"/>
<text class="n" x="218.0" y="181">0</text>
<text class="n" x="281.0" y="210">4</text>
<path transform="translate(961.5,177.5)" d="M4.5,-18 L7.9,-18 L7.9,0 L4.2,0 L4.2,-12.6 C3,-12.2 1.6,-11.9 0.3,-11.8 L0,-13.6 C1.9,-14.4 3.3,-16 4.5,-18 Z"/>
<text class="n" x="975.0" y="177.5">7</text>
<text class="n" x="928.0" y="328">5</text>
<path transform="translate(301.0,405.6)" d="M4.5,-18 L7.9,-18 L7.9,0 L4.2,0 L4.2,-12.6 C3,-12.2 1.6,-11.9 0.3,-11.8 L0,-13.6 C1.9,-14.4 3.3,-16 4.5,-18 Z"/>
<text class="n" x="814.0" y="480.5">8</text>
<text class="n" x="15.0" y="641">2</text>
<path transform="translate(530.2,614.5) skewX(-5)" d="M4.5,-18 L7.9,-18 L7.9,0 L4.2,0 L4.2,-12.6 C3,-12.2 1.6,-11.9 0.3,-11.8 L0,-13.6 C1.9,-14.4 3.3,-16 4.5,-18 Z"/>
<text class="n" transform="translate(542.6,614.5) skewX(-5)">6</text>
<path transform="translate(455.7,706)" d="M4.5,-18 L7.9,-18 L7.9,0 L4.2,0 L4.2,-12.6 C3,-12.2 1.6,-11.9 0.3,-11.8 L0,-13.6 C1.9,-14.4 3.3,-16 4.5,-18 Z"/>
<text class="n" x="468.6" y="706">5</text>
<path transform="translate(404.8,718.5) skewX(-8)" d="M4.5,-18 L7.9,-18 L7.9,0 L4.2,0 L4.2,-12.6 C3,-12.2 1.6,-11.9 0.3,-11.8 L0,-13.6 C1.9,-14.4 3.3,-16 4.5,-18 Z"/>
<text class="n" transform="translate(418.8,720.5) rotate(3) skewX(-8)" style="stroke:#000;stroke-width:0.8">4</text>
<text class="n" x="1123.0" y="660.9">6</text>
<text class="n" x="1051.0" y="700">7</text>
<path transform="translate(300.2,803.5)" d="M4.5,-18 L7.9,-18 L7.9,0 L4.2,0 L4.2,-12.6 C3,-12.2 1.6,-11.9 0.3,-11.8 L0,-13.6 C1.9,-14.4 3.3,-16 4.5,-18 Z"/>
<path transform="translate(316.0,803.5)" d="M4.5,-18 L7.9,-18 L7.9,0 L4.2,0 L4.2,-12.6 C3,-12.2 1.6,-11.9 0.3,-11.8 L0,-13.6 C1.9,-14.4 3.3,-16 4.5,-18 Z"/>
<text class="n" x="31.5" y="867">3</text>
<path transform="translate(195.2,879.7)" d="M4.5,-18 L7.9,-18 L7.9,0 L4.2,0 L4.2,-12.6 C3,-12.2 1.6,-11.9 0.3,-11.8 L0,-13.6 C1.9,-14.4 3.3,-16 4.5,-18 Z"/>
<text class="n" x="208.0" y="879.7">3</text>
<path transform="translate(182.9,944.3)" d="M4.5,-18 L7.9,-18 L7.9,0 L4.2,0 L4.2,-12.6 C3,-12.2 1.6,-11.9 0.3,-11.8 L0,-13.6 C1.9,-14.4 3.3,-16 4.5,-18 Z"/>
<text class="n" x="196.2" y="944.3">2</text>
</g>
</svg>
</body></html>
